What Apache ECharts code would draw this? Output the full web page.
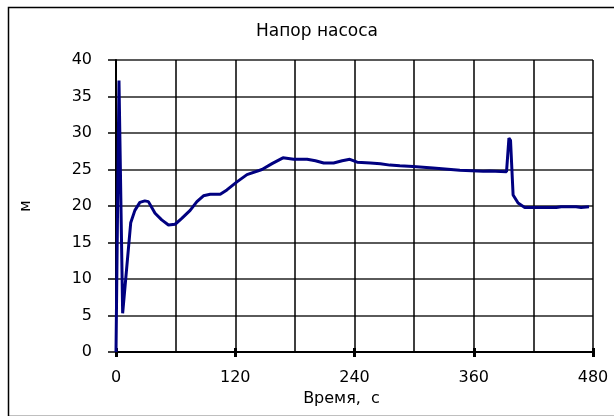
<!DOCTYPE html>
<html>
<head>
<meta charset="utf-8">
<script src="https://cdn.jsdelivr.net/npm/echarts@6/dist/echarts.min.js"></script>
<style>html,body{margin:0;padding:0;background:#fff}#c{width:614px;height:416px}</style>
</head>
<body>
<div id="c"></div>
<script>
var titleText = "Напор насоса";
var xAxisName = "Время,  с";
var yAxisName = "м";
var times = [0,3,6.7,14.8,19,24,29,32.6,39.3,46,52.8,59.5,66.2,74.6,81.4,88,94.8,104.9,111.6,121.7,131.8,146.9,157,168,178.8,192.3,200.7,209,219,227.6,235.3,242.7,256,266,275.6,285.6,299,319,346,369.5,376,393,395.4,397,399.6,404.6,411.3,423,443,448,463,468,476];
var heads = [0,37.2,5.3,17.7,19.4,20.5,20.7,20.6,19.0,18.1,17.4,17.5,18.3,19.4,20.6,21.4,21.6,21.6,22.2,23.3,24.3,25.0,25.8,26.6,26.4,26.4,26.2,25.9,25.9,26.2,26.4,26.0,25.9,25.8,25.6,25.5,25.4,25.2,24.9,24.75,24.8,24.7,29.3,29.0,21.5,20.4,19.8,19.8,19.8,19.9,19.9,19.8,19.9];
var xTicks = [0,120,240,360,480];
var yTicks = [0,5,10,15,20,25,30,35,40];

var data = times.map(function(t,i){return [t, heads[i]];});
var font = "DejaVu Sans";
var chart = echarts.init(document.getElementById('c'), null, {renderer:'canvas'});
chart.setOption({
  animation:false,
  backgroundColor:'#fff',
  title:{text:titleText,left:312,top:18,textAlign:'center',
    textStyle:{fontFamily:font,fontSize:17,fontWeight:'normal',color:'#000'}},
  grid:{left:116,right:21,top:60,bottom:64},
  xAxis:[{
    type:'value',min:xTicks[0],max:xTicks[xTicks.length-1],interval:120,
    name:xAxisName,nameLocation:'middle',nameGap:38,
    nameTextStyle:{fontFamily:font,fontSize:16,color:'#000',padding:[0,26,0,0]},
    axisLine:{show:true,onZero:false,lineStyle:{color:'#000',width:2}},
    axisTick:{show:true,length:5,lineStyle:{color:'#000',width:3}},
    axisLabel:{margin:18,fontFamily:font,fontSize:16,color:'#000'},
    splitLine:{show:true,lineStyle:{color:'#000',width:1.5}},
    minorTick:{show:false,splitNumber:2},
    minorSplitLine:{show:true,lineStyle:{color:'#000',width:1.5}}
  },{
    type:'value',position:'bottom',min:xTicks[0],max:xTicks[xTicks.length-1],interval:120,
    axisLine:{show:false},
    axisTick:{show:true,inside:true,length:4,lineStyle:{color:'#000',width:3}},
    axisLabel:{show:false},splitLine:{show:false}
  }],
  yAxis:{
    type:'value',min:yTicks[0],max:yTicks[yTicks.length-1],interval:5,
    name:yAxisName,nameLocation:'middle',nameGap:82,nameRotate:90,
    nameTextStyle:{fontFamily:font,fontSize:15,color:'#000'},
    axisLine:{show:true,lineStyle:{color:'#000',width:2}},
    axisTick:{show:true,length:8,lineStyle:{color:'#000',width:1.5}},
    axisLabel:{margin:24,fontFamily:font,fontSize:16,color:'#000'},
    splitLine:{show:true,lineStyle:{color:'#5a5a5a',width:2}}
  },
  series:[{
    type:'line',data:data,showSymbol:false,symbol:'none',
    lineStyle:{color:'#000080',width:3},
    z:5
  }],
  graphic:[{
    type:'rect',left:6,top:5,shape:{x:0,y:0,width:620,height:409},
    style:{fill:null,stroke:'#000',lineWidth:1.5},z:-1
  }]
});
</script>
</body>
</html>
